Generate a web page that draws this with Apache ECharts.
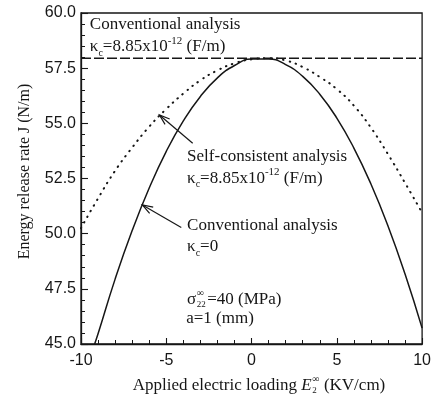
<!DOCTYPE html>
<html>
<head>
<meta charset="utf-8">
<script src="https://cdn.jsdelivr.net/npm/echarts@6/dist/echarts.min.js"></script>
<style>
  html, body { margin: 0; padding: 0; background: #fff; }
  #chart { width: 434px; height: 407px; }
</style>
</head>
<body>
<div id="chart"></div>
<script>
// Applied electric loading E2 (KV/cm)
const loadE = [-10, -9, -8, -7, -6, -5, -4, -3, -2, -1, 0, 1, 2, 3, 4, 5, 6, 7, 8, 9, 10];
const loadEConvZero = [-9.2, -9, -8, -7, -6, -5, -4, -3, -2, -1, 0, 1, 2, 3, 4, 5, 6, 7, 8, 9, 10];
const loadEConvVacuum = [-10, 10];

// Energy release rate J (N/m)
const jConvZero = [45.0, 45.46, 47.94, 50.14, 52.07, 53.73, 55.11, 56.22, 57.06, 57.62, 57.91,
                   57.92, 57.66, 57.13, 56.32, 55.24, 53.88, 52.25, 50.35, 48.17, 45.72];
const jSelfConsistent = [50.25, 51.6, 52.85, 53.9, 54.85, 55.65, 56.35, 56.95, 57.4, 57.72, 57.9,
                         57.95, 57.85, 57.55, 57.1, 56.55, 55.8, 54.8, 53.6, 52.3, 50.95];
const jConvVacuum = [57.95, 57.95];

const INK = '#161616';
const SERIF = '"Liberation Serif", "DejaVu Serif", serif';
const SANS = '"Liberation Sans", Arial, sans-serif';
const FS = 17;

const pairs = (xs, ys) => xs.map((x, i) => [x, ys[i]]);

const chart = echarts.init(document.getElementById('chart'), null, { renderer: 'canvas' });

const option = {
  animation: false,
  backgroundColor: '#fff',
  grid: {
    left: 81, right: 6, top: 13, bottom: 63,
    show: true, borderColor: INK, borderWidth: 1.3, backgroundColor: 'transparent'
  },
  xAxis: {
    type: 'value', min: -10, max: 10, interval: 5,
    axisLine: { onZero: false, lineStyle: { color: INK, width: 1.3 } },
    axisTick: { inside: true, length: 6, lineStyle: { color: INK, width: 1.1 } },
    minorTick: { show: true, splitNumber: 5, length: 4, lineStyle: { color: INK, width: 1 } },
    splitLine: { show: false },
    axisLabel: { color: INK, fontFamily: SANS, fontSize: 16, margin: 9 }
  },
  yAxis: {
    type: 'value', min: 45, max: 60, interval: 2.5,
    axisLine: { onZero: false, lineStyle: { color: INK, width: 1.3 } },
    axisTick: { inside: true, length: 7, lineStyle: { color: INK, width: 1.1 } },
    minorTick: { show: true, splitNumber: 5, length: 4, lineStyle: { color: INK, width: 1 } },
    splitLine: { show: false },
    axisLabel: {
      color: INK, fontFamily: SANS, fontSize: 16, margin: 5,
      formatter: v => v.toFixed(1)
    }
  },
  series: [
    {
      name: 'Conventional analysis, kc=8.85e-12',
      type: 'line', showSymbol: false, silent: true,
      data: pairs(loadEConvVacuum, jConvVacuum),
      lineStyle: { color: INK, width: 1.4, type: [10, 3] }
    },
    {
      name: 'Self-consistent analysis',
      type: 'line', showSymbol: false, silent: true, smooth: true,
      data: pairs(loadE, jSelfConsistent),
      lineStyle: { color: INK, width: 2, type: [0.5, 6], cap: 'round' }
    },
    {
      name: 'Conventional analysis, kc=0',
      type: 'line', showSymbol: false, silent: true, smooth: true,
      data: pairs(loadEConvZero, jConvZero),
      lineStyle: { color: INK, width: 1.5 }
    }
  ]
};
chart.setOption(option);

// ---- annotations ----
const px = (e, j) => chart.convertToPixel({ gridIndex: 0 }, [e, j]);
const ctx = document.createElement('canvas').getContext('2d');
function textWidth(str, size, family, style) {
  ctx.font = (style || '') + ' ' + size + 'px ' + family;
  return ctx.measureText(str).width;
}

const mainRich = {
  m: { fontFamily: SERIF, fontSize: FS, lineHeight: 22, verticalAlign: 'middle', color: INK },
  sub: { fontFamily: SERIF, fontSize: 10, lineHeight: 10, verticalAlign: 'bottom', color: INK },
  sup: { fontFamily: SERIF, fontSize: 11, lineHeight: 11, verticalAlign: 'top', color: INK }
};

function label(x, y, text) {
  return {
    type: 'text', silent: true,
    style: { x, y, text, rich: mainRich, align: 'left', verticalAlign: 'middle',
             fontFamily: SERIF, fontSize: FS, fill: INK }
  };
}
function plain(x, y, text, size, extra) {
  return {
    type: 'text', silent: true,
    style: Object.assign({ x, y, text, fontFamily: SERIF, fontSize: size, fill: INK, verticalAlign: 'middle' }, extra || {})
  };
}
const kappaVac = '{m|κ}{sub|c}{m|=8.85x10}{sup|-12}{m| (F/m)}';

function arrow(tail, tip) {
  const [x0, y0] = px(tail[0], tail[1]);
  const [x1, y1] = px(tip[0], tip[1]);
  const a = Math.atan2(y1 - y0, x1 - x0);
  const L = 11, w = 0.33;
  const p1 = [x1 - L * Math.cos(a - w), y1 - L * Math.sin(a - w)];
  const p2 = [x1 - L * Math.cos(a + w), y1 - L * Math.sin(a + w)];
  const st = { stroke: INK, lineWidth: 1.2, fill: null };
  return [
    { type: 'line', silent: true, shape: { x1: x0, y1: y0, x2: x1, y2: y1 }, style: st },
    { type: 'polyline', silent: true, shape: { points: [p1, [x1, y1], p2] }, style: st }
  ];
}

const g = [];
// upper-left legend text
{
  const [x, y] = px(-9.48, 59.46);
  g.push(label(x, y, '{m|Conventional analysis}'));
  const [x2, y2] = px(-9.48, 58.46);
  g.push(label(x2, y2, kappaVac));
}
// self-consistent curve note
{
  const [x, y] = px(-3.78, 53.48);
  g.push(label(x, y, '{m|Self-consistent analysis}'));
  const [x2, y2] = px(-3.78, 52.52);
  g.push(label(x2, y2, kappaVac));
}
// conventional (kc = 0) curve note
{
  const [x, y] = px(-3.78, 50.35);
  g.push(label(x, y, '{m|Conventional analysis}'));
  const [x2, y2] = px(-3.78, 49.4);
  g.push(label(x2, y2, '{m|κ}{sub|c}{m|=0}'));
}
// loading conditions
{
  const [x, y] = px(-3.78, 47.0);
  const wS = textWidth('σ', FS, SERIF);
  g.push(plain(x, y, 'σ', FS));
  g.push(plain(x + wS + 0.5, y - 6, '∞', 10));
  g.push(plain(x + wS + 0.5, y + 5, '22', 9));
  g.push(plain(x + wS + 11, y, '=40 (MPa)', FS));
  const [x2, y2] = px(-3.83, 46.14);
  g.push(label(x2, y2, '{m|a=1 (mm)}'));
}
// arrows pointing to the curves
g.push(...arrow([-3.45, 54.1], [-5.4, 55.38]));
g.push(...arrow([-4.12, 50.28], [-6.4, 51.3]));

// y-axis title
g.push({
  type: 'text', silent: true, x: 25, y: 171.5, rotation: Math.PI / 2,
  style: { x: 0, y: 0, text: 'Energy release rate J (N/m)', fontFamily: SERIF, fontSize: 16,
           fill: INK, align: 'center', verticalAlign: 'middle' }
});

// x-axis title: Applied electric loading E2^inf (KV/cm)
{
  const p1 = 'Applied electric loading ';
  const p3 = ' (KV/cm)';
  const w1 = textWidth(p1, FS, SERIF);
  const wE = textWidth('E', FS, SERIF, 'italic');
  const wSS = 8;
  const w3 = textWidth(p3, FS, SERIF);
  const total = w1 + wE + wSS + w3;
  const cx = 259, cy = 386;
  let x = cx - total / 2;
  g.push(plain(x, cy, p1, FS));
  x += w1;
  g.push(plain(x, cy, 'E', FS, { fontStyle: 'italic' }));
  x += wE;
  g.push(plain(x + 0.5, cy - 7, '∞', 10));
  g.push(plain(x + 0.5, cy + 5, '2', 9));
  x += wSS;
  g.push(plain(x, cy, p3, FS));
}

chart.setOption({ graphic: { elements: g } });
</script>
</body>
</html>
